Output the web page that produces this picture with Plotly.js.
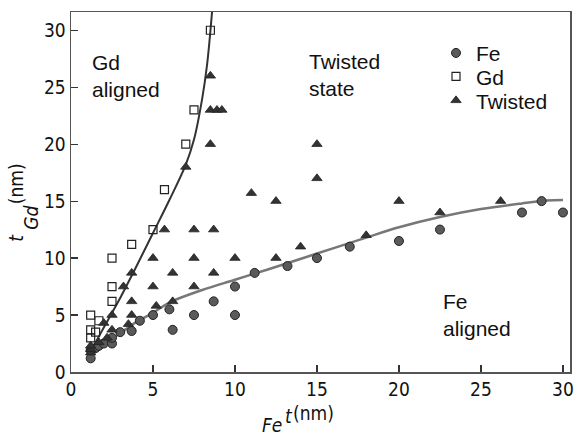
<!DOCTYPE html>
<html>
<head>
<meta charset="utf-8">
<script src="https://cdn.plot.ly/plotly-3.0.1.min.js"></script>
<style>html,body{margin:0;padding:0;background:#fff;}#chart{width:577px;height:437px;}</style>
</head>
<body>
<div id="chart"></div>
<script>
// Fe-aligned points (circles)
const feX = [1.2, 1.2, 1.5, 1.7, 2.0, 2.5, 2.5, 3.0, 3.7, 4.2, 5.0, 6.0, 6.2, 7.5, 8.7, 10.0, 10.0, 11.2, 13.2, 15.0, 17.0, 20.0, 22.5, 27.5, 28.7, 30.0];
const feY = [1.2, 1.9, 2.1, 2.3, 2.5, 2.5, 3.0, 3.5, 3.6, 4.5, 5.0, 5.5, 3.7, 5.0, 6.2, 5.0, 7.5, 8.7, 9.3, 10.0, 11.0, 11.5, 12.5, 14.0, 15.0, 14.0];
// Gd-aligned points (open squares)
const gdX = [1.2, 1.2, 1.2, 1.5, 1.7, 2.5, 2.5, 2.5, 3.7, 5.0, 5.7, 7.0, 7.5, 8.5];
const gdY = [3.0, 3.7, 5.0, 3.5, 4.5, 6.2, 7.5, 10.0, 11.2, 12.5, 16.0, 20.0, 23.0, 30.0];
// Twisted-state points (triangles)
const twX = [1.2, 1.2, 1.2, 1.7, 2.2, 2.0, 2.5, 2.5, 3.2, 3.5, 3.7, 3.7, 3.7, 5.0, 5.0, 5.2, 5.7, 6.2, 6.2, 7.0, 7.5, 7.5, 7.5, 8.5, 8.5, 8.5, 8.7, 8.7, 8.9, 9.2, 10.0, 11.0, 12.5, 12.5, 14.0, 15.0, 15.0, 18.0, 20.0, 22.5, 26.2];
const twY = [1.7, 2.0, 2.3, 2.6, 3.0, 4.3, 3.7, 5.0, 7.5, 4.2, 5.0, 6.2, 8.7, 7.5, 10.0, 5.8, 12.5, 6.2, 8.7, 18.0, 7.5, 10.0, 12.5, 20.0, 23.0, 26.0, 8.7, 12.5, 23.0, 23.0, 10.0, 15.7, 10.0, 15.0, 11.0, 17.0, 20.0, 12.0, 15.0, 14.0, 15.0];
// Phase boundary curves
const gdLineX = [1.2, 1.5, 2.0, 2.5, 3.0, 4.0, 5.0, 6.0, 7.0, 7.5, 8.0, 8.3, 8.6];
const gdLineY = [1.8, 2.6, 3.9, 5.2, 6.5, 9.3, 12.2, 15.1, 18.2, 20.4, 24.0, 27.0, 31.6];
const feLineX = [1.2, 2, 3, 4, 5, 6, 8, 10, 12, 15, 18, 20, 22.5, 25, 27.5, 29, 30];
const feLineY = [1.4, 2.4, 3.4, 4.4, 5.2, 6.1, 7.2, 8.1, 9.0, 10.4, 11.8, 12.7, 13.6, 14.3, 14.8, 15.05, 15.1];
const ticks = [0, 5, 10, 15, 20, 25, 30];

const sans = "Liberation Sans, Arial, sans-serif";
const cond = "DejaVu Sans Condensed, DejaVu Sans, sans-serif";

const traces = [
  {x: gdLineX, y: gdLineY, mode: 'lines', line: {color: '#333', width: 2, shape: 'spline'}, showlegend: false, hoverinfo: 'skip'},
  {x: feLineX, y: feLineY, mode: 'lines', line: {color: '#777', width: 2.5, shape: 'spline'}, showlegend: false, hoverinfo: 'skip'},
  {x: feX, y: feY, mode: 'markers', name: 'Fe', legend: 'legend',
   marker: {symbol: 'circle', size: 9, color: '#5a5a5a', line: {color: '#222', width: 1}}},
  {x: gdX, y: gdY, mode: 'markers', name: 'Gd', legend: 'legend2',
   marker: {symbol: 'square-open', size: 8, color: '#222', line: {color: '#222', width: 1.2}}},
  {x: twX, y: twY, mode: 'markers', name: 'Twisted', legend: 'legend3',
   marker: {symbol: 'triangle-up', size: 9, color: '#333', line: {color: '#222', width: 0.8}}}
];

function px2x(p) { return (p - 71) / 499; }
function px2y(p) { return (372.3 - p) / 360.6; }

const legendBase = {xanchor: 'left', yanchor: 'top', bgcolor: 'rgba(0,0,0,0)', borderwidth: 0,
  font: {family: sans, size: 21, color: '#111'}};

const layout = {
  width: 577, height: 437,
  margin: {l: 71, r: 7, t: 12, b: 65},
  paper_bgcolor: '#fff', plot_bgcolor: '#fff',
  showlegend: true,
  xaxis: {range: [0, 30.43], tickvals: ticks, ticktext: ticks.map(String), ticks: 'inside', ticklen: 7,
    tickcolor: '#333', tickwidth: 1.2, showline: true, mirror: true, linecolor: '#555', linewidth: 1.5,
    showgrid: false, zeroline: false, tickfont: {family: cond, size: 19, color: '#111'}},
  yaxis: {range: [0, 31.6], tickvals: ticks, ticktext: ticks.map(String), ticks: 'inside', ticklen: 7,
    tickcolor: '#333', tickwidth: 1.2, showline: true, mirror: true, linecolor: '#555', linewidth: 1.5,
    showgrid: false, zeroline: false, tickfont: {family: cond, size: 19, color: '#111'}},
  legend: Object.assign({}, legendBase, {x: px2x(436), y: px2y(32.5)}),
  legend2: Object.assign({}, legendBase, {x: px2x(436), y: px2y(56)}),
  legend3: Object.assign({}, legendBase, {x: px2x(436), y: px2y(80)}),
  annotations: [
    {text: 'Gd<br>aligned', xref: 'paper', yref: 'paper', x: px2x(89.5), y: px2y(75.5), xanchor: 'left', yanchor: 'middle', align: 'left', showarrow: false, font: {family: sans, size: 21, color: '#111'}},
    {text: 'Twisted<br>state', xref: 'paper', yref: 'paper', x: px2x(307), y: px2y(74.8), xanchor: 'left', yanchor: 'middle', align: 'left', showarrow: false, font: {family: sans, size: 21, color: '#111'}},
    {text: 'Fe<br>aligned', xref: 'paper', yref: 'paper', x: px2x(441), y: px2y(315.5), xanchor: 'left', yanchor: 'middle', align: 'left', showarrow: false, font: {family: sans, size: 21, color: '#111'}},
    // x-axis title: t_Fe (nm)
    {text: '<i>t</i>', xref: 'paper', yref: 'paper', x: px2x(289), y: px2y(416), xanchor: 'center', yanchor: 'middle', showarrow: false, font: {family: cond, size: 19, color: '#111'}},
    {text: '(nm)', xref: 'paper', yref: 'paper', x: px2x(313), y: px2y(413), xanchor: 'center', yanchor: 'middle', showarrow: false, font: {family: cond, size: 19, color: '#111'}},
    {text: '<i>Fe</i>', xref: 'paper', yref: 'paper', x: px2x(272), y: px2y(425), xanchor: 'center', yanchor: 'middle', showarrow: false, font: {family: cond, size: 19, color: '#111'}},
    // y-axis title: t_Gd (nm)
    {text: '<i>t</i>', xref: 'paper', yref: 'paper', x: px2x(16.35), y: px2y(237.5), xanchor: 'center', yanchor: 'middle', textangle: -90, showarrow: false, font: {family: cond, size: 19, color: '#111'}},
    {text: '<i>Gd</i>', xref: 'paper', yref: 'paper', x: px2x(31.35), y: px2y(217.5), xanchor: 'center', yanchor: 'middle', textangle: -90, showarrow: false, font: {family: cond, size: 19, color: '#111'}},
    {text: '(nm)', xref: 'paper', yref: 'paper', x: px2x(16.2), y: px2y(184), xanchor: 'center', yanchor: 'middle', textangle: -90, showarrow: false, font: {family: cond, size: 19, color: '#111'}}
  ]
};

Plotly.newPlot('chart', traces, layout, {displayModeBar: false, staticPlot: true});
</script>
</body>
</html>
